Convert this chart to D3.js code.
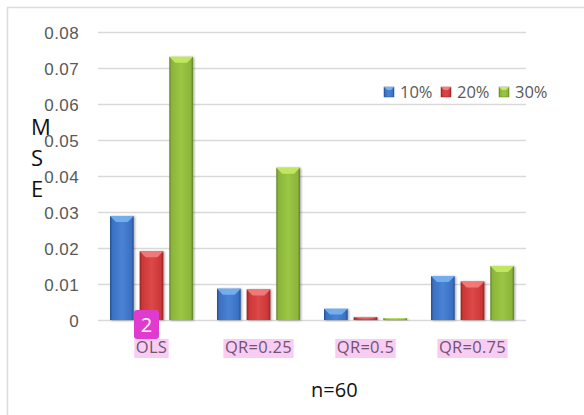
<!DOCTYPE html>
<html>
<head>
<meta charset="utf-8">
<script src="https://cdn.jsdelivr.net/npm/d3@7/dist/d3.min.js"></script>
<style>
  html, body { margin: 0; padding: 0; background: #fff; }
  svg { display: block; font-family: "Open Sans", "DejaVu Sans", sans-serif; }
</style>
</head>
<body>
<svg id="chart" width="584" height="415"></svg>
<script>
// Mean squared error by estimator and contamination level (n = 60)
const categories = ["OLS", "QR=0.25", "QR=0.5", "QR=0.75"];
const seriesNames = ["10%", "20%", "30%"];
const mse10 = [0.0289, 0.0087, 0.0031, 0.0122];
const mse20 = [0.0191, 0.0085, 0.0008, 0.0107];
const mse30 = [0.0731, 0.0423, 0.0005, 0.0150];
const yTicks = [0, 0.01, 0.02, 0.03, 0.04, 0.05, 0.06, 0.07, 0.08];
const seriesValues = [mse10, mse20, mse30];

const palette = {
  "10%": { base: "#3a70c3", light: "#4a83d4", dark: "#24508f", top: "#78b2f0" },
  "20%": { base: "#cc3636", light: "#dc4848", dark: "#8f2222", top: "#f57d7d" },
  "30%": { base: "#8bb53a", light: "#9ac744", dark: "#648426", top: "#c5ea63" }
};

const svg = d3.select("#chart");
const defs = svg.append("defs");

// Horizontal shading for the bevelled bar bodies
seriesNames.forEach((s, i) => {
  const c = palette[s];
  const g = defs.append("linearGradient").attr("id", "body" + i)
    .attr("x1", "0%").attr("x2", "100%").attr("y1", "0%").attr("y2", "0%");
  g.append("stop").attr("offset", "0%").attr("stop-color", c.dark);
  g.append("stop").attr("offset", "10%").attr("stop-color", c.base);
  g.append("stop").attr("offset", "50%").attr("stop-color", c.light);
  g.append("stop").attr("offset", "90%").attr("stop-color", c.base);
  g.append("stop").attr("offset", "100%").attr("stop-color", c.dark);
});
const shadow = defs.append("filter").attr("id", "shadow")
  .attr("x", "-20%").attr("y", "-5%").attr("width", "150%").attr("height", "115%");
shadow.append("feDropShadow").attr("dx", 1.2).attr("dy", 0.5)
  .attr("stdDeviation", 1).attr("flood-color", "#000").attr("flood-opacity", 0.35);

// Outer frame
svg.append("path")
  .attr("d", "M7.5,415 L7.5,7.5 L584,7.5")
  .attr("fill", "none").attr("stroke", "#dcdcdc").attr("stroke-width", 1.5);

const plotLeft = 98, plotRight = 526, plotTop = 32, plotBottom = 320;

const y = d3.scaleLinear().domain([0, 0.08]).range([plotBottom, plotTop]);
const x0 = d3.scaleBand().domain(categories).range([plotLeft, plotRight]).padding(0);
const x1 = d3.scaleBand().domain(seriesNames).range([12, x0.bandwidth() - 12]).paddingInner(0.2);

// Gridlines and value axis
const yAxis = d3.axisLeft(y).tickValues(yTicks)
  .tickFormat(d => d === 0 ? "0" : d3.format(".2f")(d))
  .tickSize(-(plotRight - plotLeft)).tickPadding(19);
const gy = svg.append("g").attr("transform", `translate(${plotLeft},0)`).call(yAxis);
gy.select(".domain").remove();
gy.selectAll(".tick line").attr("stroke", "#d9d9d9").attr("stroke-width", 1.5);
gy.selectAll(".tick text").attr("fill", "#595959")
  .style("font-size", "17px").style("letter-spacing", "0.4px").attr("dy", "0.36em");

// Bars
const groups = svg.append("g").selectAll("g").data(categories).join("g")
  .attr("transform", d => `translate(${x0(d)},0)`);

groups.each(function(cat, ci) {
  const g = d3.select(this);
  seriesNames.forEach((s, si) => {
    const v = seriesValues[si][ci];
    const bx = x1(s), bw = x1.bandwidth();
    const top = y(v), h = y(0) - top;
    const c = palette[s];
    const bar = g.append("g").attr("filter", "url(#shadow)");
    bar.append("rect").attr("x", bx).attr("y", top).attr("width", bw).attr("height", h)
      .attr("fill", `url(#body${si})`);
    const bev = Math.min(6, h / 2), inset = Math.min(6, bw / 4);
    bar.append("path")
      .attr("d", `M${bx},${top} L${bx + bw},${top} L${bx + bw - inset},${top + bev} L${bx + inset},${top + bev} Z`)
      .attr("fill", c.top).attr("opacity", 0.9);
  });
});

// Category labels with highlight
const catLabels = svg.append("g");
categories.forEach(cat => {
  const cx = x0(cat) + x0.bandwidth() / 2;
  const t = catLabels.append("text").attr("x", cx).attr("y", 353)
    .attr("text-anchor", "middle").attr("fill", "#6f5470")
    .style("font-size", "16.5px").style("letter-spacing", "0.3px").text(cat);
  const bb = t.node().getBBox();
  catLabels.insert("rect", "text")
    .attr("x", bb.x - 1.5).attr("y", 339).attr("width", bb.width + 3).attr("height", 19)
    .attr("fill", "#f9ccf3");
});

// Comment marker
const ols = x0("OLS") + x0.bandwidth() / 2;
svg.append("rect").attr("x", ols - 17.5).attr("y", 310).attr("width", 25).attr("height", 29)
  .attr("rx", 3).attr("fill", "#df3ccf");
svg.append("text").attr("x", ols - 5).attr("y", 332).attr("text-anchor", "middle")
  .attr("fill", "#fff").style("font-size", "20px").text("2");

// Legend
const legendPos = [384, 441, 499];
seriesNames.forEach((s, i) => {
  const c = palette[s];
  const lx = legendPos[i];
  svg.append("rect").attr("x", lx).attr("y", 87).attr("width", 10).attr("height", 10)
    .attr("fill", `url(#body${i})`).attr("stroke", c.dark).attr("stroke-width", 0.5);
  svg.append("path").attr("d", `M${lx},87 L${lx + 10},87 L${lx + 7},90 L${lx + 3},90 Z`)
    .attr("fill", c.top);
  svg.append("text").attr("x", lx + 16).attr("y", 98).attr("fill", "#595959")
    .style("font-size", "16.5px").text(s);
});

// Axis titles
const yTitle = ["M", "S", "E"];
yTitle.forEach((ch, i) => {
  svg.append("text").attr("x", 31).attr("y", 135 + i * 31)
    .attr("fill", "#111").style("font-size", "22px").text(ch);
});
svg.append("text").attr("x", 311).attr("y", 397).attr("fill", "#111")
  .style("font-size", "20px").text("n=60");
</script>
</body>
</html>
